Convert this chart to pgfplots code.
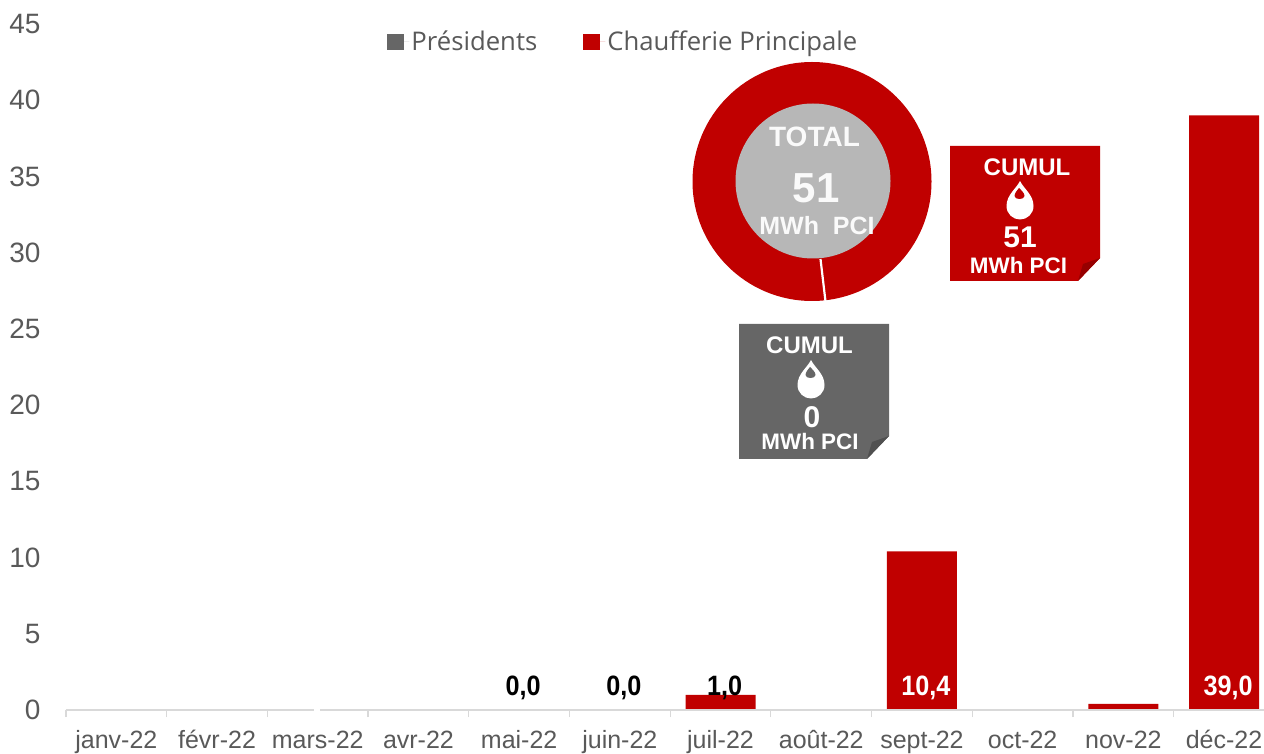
\documentclass[border=0pt]{standalone}
\usepackage{pgfplots}
\pgfplotsset{compat=1.18}
\usepackage{fontspec}
\setmainfont{Liberation Sans}
\newfontfamily\legfont{Open Sans}
\newfontfamily\narrowbold[FakeStretch=0.9]{Liberation Sans Bold}
\definecolor{axred}{HTML}{C00000}
\definecolor{axgrey}{HTML}{666666}
\definecolor{txt}{HTML}{595959}
\definecolor{axln}{HTML}{D9D9D9}
\definecolor{innergrey}{HTML}{B7B7B7}
\newcommand{\dropicon}[3]{% cx, top y, background
  \fill[white] (#1,#2) .. controls (#1+4,#2+8) and (#1+13.5,#2+14) .. (#1+13.5,#2+25)
    .. controls (#1+13.5,#2+33) and (#1+7,#2+38.5) .. (#1,#2+38.5)
    .. controls (#1-7,#2+38.5) and (#1-13.5,#2+33) .. (#1-13.5,#2+25)
    .. controls (#1-13.5,#2+14) and (#1-4,#2+8) .. (#1,#2);
  \fill[#3] (#1-1,#2+7) .. controls (#1+1,#2+9) and (#1+4.5,#2+12) .. (#1+4.5,#2+15)
    .. controls (#1+4.5,#2+19) and (#1-5.5,#2+19) .. (#1-5.5,#2+15)
    .. controls (#1-5.5,#2+12) and (#1-2.5,#2+9) .. (#1-1,#2+7);
}
\newcommand{\note}[3]{% left x, top y, colour
  \fill[#3] (#1,#2) -- (#1+150,#2) -- (#1+150,#2+112) -- (#1+128,#2+135) -- (#1,#2+135) -- cycle;
  \fill[#3!78!black] (#1+128,#2+135) -- (#1+150,#2+112) -- (#1+133,#2+118) -- cycle;
}
\begin{document}
\begin{tikzpicture}[x=1pt,y=1pt]
\path[use as bounding box,clip] (0,0) rectangle (1264,753);
\begin{axis}[
  at={(66pt,43pt)}, anchor=south west,
  scale only axis, width=1208.4pt, height=686pt,
  xmin=-0.5, xmax=11.5, ymin=0, ymax=45,
  ytick={0,5,...,45},
  xtick={0,...,11},
  xticklabels={janv-22,févr-22,mars-22,avr-22,mai-22,juin-22,juil-22,août-22,sept-22,oct-22,nov-22,déc-22},
  minor xtick={-0.5,0.5,...,11.5},
  axis x line*=bottom, axis y line*=left,
  axis on top,
  x axis line style={draw=axln,line width=1.5pt,-},
  y axis line style={draw=none},
  major tick length=0pt,
  minor tick length=7pt,
  tick align=outside,
  major tick style={draw=none},
  minor tick style={draw=axln,line width=1.2pt},
  xticklabel style={font=\fontsize{25}{25}\selectfont,text=txt,anchor=base,yshift=-38pt},
  yticklabel style={font=\fontsize{28}{28}\selectfont,text=txt,anchor=east,xshift=-22pt,yshift=-4pt,/pgf/number format/assume math mode=true},
  typeset ticklabels with strut,
  clip=false,
  legend columns=2,
  legend style={draw=none,fill=none,at={(axis cs:2.69,43.83)},anchor=west,
    font=\legfont\fontsize{25.7}{25.7}\selectfont,text=txt,
    /tikz/every even column/.style={column sep=44pt},inner sep=0pt},
  legend cell align=left,
]
\addplot[ybar,bar width=70pt,bar shift=0pt,fill=axgrey,draw=none,
  legend image code/.code={\fill[axgrey] (0pt,-8pt) rectangle (17pt,8pt);\path (0pt,0pt) -- (22pt,0pt);}]
  coordinates {(0,0)(1,0)(2,0)(3,0)(4,0)(5,0)(6,0)(7,0)(8,0)(9,0)(10,0)(11,0)};
\addlegendentry{Présidents}
\addplot[ybar,bar width=70pt,bar shift=0pt,fill=axred,draw=none,
  legend image code/.code={\fill[axred] (0pt,-8pt) rectangle (17pt,8pt);\path (0pt,0pt) -- (22pt,0pt);}]
  coordinates {(0,0)(1,0)(2,0)(3,0)(4,0)(5,0)(6,1.0)(7,0)(8,10.4)(9,0)(10,0.4)(11,39.0)};
\addlegendentry{Chaufferie Principale}
\addplot[draw=none,mark=none,forget plot,point meta=explicit,
  nodes near coords,
  nodes near coords align=center,
  every node near coord/.append style={font=\narrowbold\fontsize{28}{28}\selectfont,text=black,xshift=4pt,yshift=-2pt,
    /pgf/number format/fixed,/pgf/number format/fixed zerofill,/pgf/number format/precision=1,
    /pgf/number format/use comma,/pgf/number format/assume math mode=true}]
  coordinates {(4,1.57)[0.0] (5,1.57)[0.0] (6,1.57)[1.0]};
\addplot[draw=none,mark=none,forget plot,point meta=explicit,
  nodes near coords,
  nodes near coords align=center,
  every node near coord/.append style={font=\narrowbold\fontsize{28}{28}\selectfont,text=white,xshift=4pt,yshift=-2pt,
    /pgf/number format/fixed,/pgf/number format/fixed zerofill,/pgf/number format/precision=1,
    /pgf/number format/use comma,/pgf/number format/assume math mode=true}]
  coordinates {(8,1.57)[10.4] (11,1.57)[39.0]};
\end{axis}
\begin{scope}[shift={(0,753)},x=1pt,y=-1pt]
  \draw[white,line width=2pt] (314,710) -- (320,710);
  % donut
  \fill[axred] (812,181.5) circle[radius=119.5];
  \fill[innergrey] (813,181) circle[radius=77.5];
  \draw[white,line width=2.2pt] (820.5,259) -- (825.5,301.5);
  \node[white!93!innergrey,font=\bfseries\fontsize{28}{28}\selectfont] at (814.5,137) {TOTAL};
  \node[white!93!innergrey,font=\bfseries\fontsize{42}{42}\selectfont] at (816,188.5) {51};
  \node[white!93!innergrey,font=\bfseries\fontsize{25}{25}\selectfont] at (817,226) {MWh\ \ PCI};
  % red note
  \note{950}{146}{axred}
  \node[white,font=\bfseries\fontsize{24}{24}\selectfont] at (1027,167) {CUMUL};
  \dropicon{1020}{181}{axred}
  \node[white,font=\bfseries\fontsize{30}{30}\selectfont] at (1020,237) {51};
  \node[white,font=\bfseries\fontsize{22.4}{22.4}\selectfont] at (1018.5,265) {MWh PCI};
  % grey note
  \note{739}{324}{axgrey}
  \node[white,font=\bfseries\fontsize{24}{24}\selectfont] at (809.5,345.5) {CUMUL};
  \dropicon{811}{360}{axgrey}
  \node[white,font=\bfseries\fontsize{30}{30}\selectfont] at (812,417) {0};
  \node[white,font=\bfseries\fontsize{22.4}{22.4}\selectfont] at (810,441) {MWh PCI};
\end{scope}
\end{tikzpicture}
\end{document}
